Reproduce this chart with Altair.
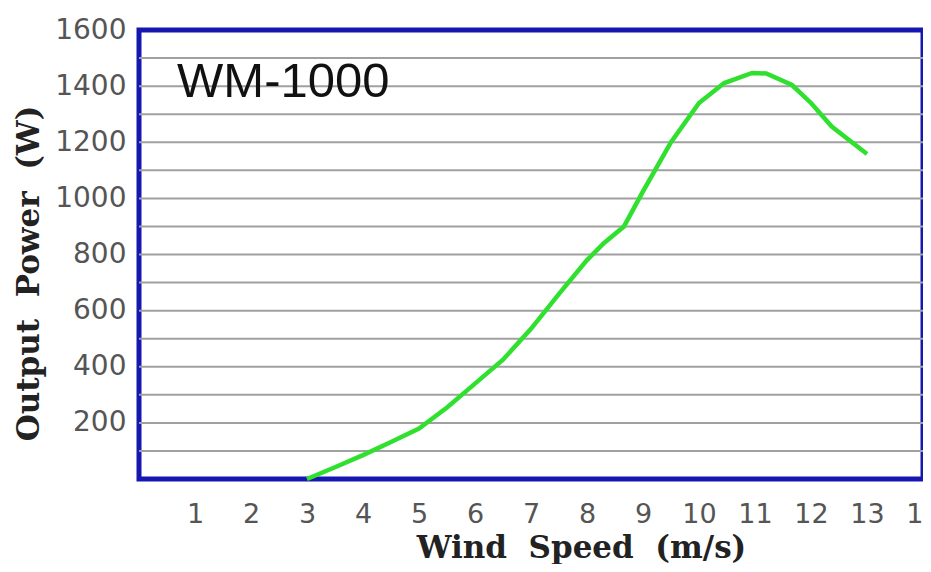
import altair as alt
import pandas as pd

# Power curve
wind_speed = [3, 3.5, 4, 4.5, 5, 5.5, 6, 6.5, 7, 7.5, 8, 8.3, 8.66, 9, 9.5, 10,
              10.45, 10.95, 11.2, 11.66, 12, 12.37, 13]
output_power = [0, 42, 85, 132, 180, 255, 340, 425, 535, 660, 780, 840, 900, 1025,
                1200, 1340, 1411, 1447, 1445, 1404, 1340, 1256, 1158]

x_ticks = list(range(1, 15))
y_label_values = [200, 400, 600, 800, 1000, 1200, 1400, 1600]
grid_values = list(range(100, 1600, 100))

label_text = ["WM-1000"]
label_x = [0.68]
label_y = [1360]

NB = "\u00a0"
x_title = f"Wind{NB}{NB}Speed{NB}{NB}(m/s)"
y_title = f"Output{NB}{NB}Power{NB}{NB}(W)"

curve = pd.DataFrame({"speed": wind_speed, "power": output_power})
grid = pd.DataFrame({"g": grid_values, "x0": [0] * len(grid_values), "x1": [14] * len(grid_values)})
label = pd.DataFrame({"t": label_text, "x": label_x, "y": label_y})

xscale = alt.Scale(domain=[0, 14], nice=False)
yscale = alt.Scale(domain=[0, 1600], nice=False)

tick_font = "DejaVu Sans"
title_font = "DejaVu Serif"

x_axis = alt.Axis(
    values=x_ticks, format="d", ticks=False, domain=False, grid=False,
    labelFont=tick_font, labelFontSize=27, labelColor="#555", labelPadding=22,
    labelFlush=False, labelOverlap=False,
    title=x_title, titleFont=title_font, titleFontSize=31,
    titleFontWeight="bold", titleColor="#222",
    titleX=442, titleY=78, titleBaseline="alphabetic", titleAnchor="middle",
)
y_axis = alt.Axis(
    values=y_label_values, format="d", ticks=False, domain=False, grid=False,
    labelFont=tick_font, labelFontSize=28, labelColor="#555", labelPadding=13,
    labelFlush=False, labelOverlap=False,
    title=y_title, titleFont=title_font, titleFontSize=31,
    titleFontWeight="bold", titleColor="#222",
    titleX=-94, titleY=243, titleBaseline="bottom", titleAngle=-90,
)

rules = alt.Chart(grid).mark_rule(color="#a0a0a0", strokeWidth=2).encode(
    x=alt.X("x0:Q", scale=xscale, axis=x_axis),
    x2="x1:Q",
    y=alt.Y("g:Q", scale=yscale, axis=y_axis),
)

line = alt.Chart(curve).mark_line(color="#2fe02f", strokeWidth=4.5).encode(
    x=alt.X("speed:Q", scale=xscale),
    y=alt.Y("power:Q", scale=yscale),
)

text = alt.Chart(label).mark_text(
    font="Liberation Sans", fontSize=49, color="#111", align="left", baseline="alphabetic"
).encode(
    x=alt.X("x:Q", scale=xscale),
    y=alt.Y("y:Q", scale=yscale),
    text="t:N",
)

chart = alt.layer(rules, line, text).properties(
    width=784, height=449,
    autosize=alt.AutoSizeParams(type="none"),
    padding={"left": 131, "top": 22, "right": 0, "bottom": 85},
    background="white",
).configure_view(stroke="#1616b0", strokeWidth=5)

chart.save("out.html", embed_options={"renderer": "svg", "actions": False})
